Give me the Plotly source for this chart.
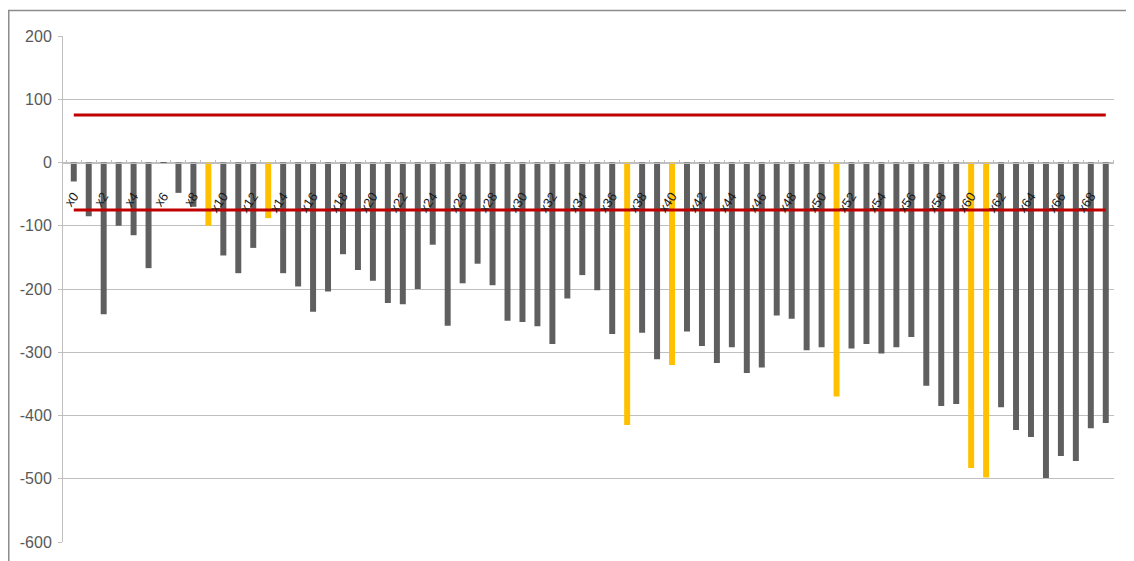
import plotly.graph_objects as go

# ---- data ----
values = [-30, -85, -240, -100, -115, -167, -2, -48, -70, -100,
          -147, -175, -135, -88, -175, -196, -236, -204, -145, -170,
          -187, -222, -224, -200, -130, -258, -191, -160, -194, -250,
          -252, -259, -287, -215, -178, -202, -271, -415, -269, -311,
          -320, -267, -290, -317, -292, -333, -324, -242, -247, -297,
          -292, -370, -294, -287, -302, -292, -276, -353, -385, -382,
          -483, -498, -387, -423, -434, -499, -464, -472, -420, -412]
categories = [f"x{i}" for i in range(len(values))]
flagged = [9, 13, 37, 40, 51, 60, 61]          # highlighted (yellow) categories
upper_limit = 75
lower_limit = -75
y_ticks = [200, 100, 0, -100, -200, -300, -400, -500, -600]
y_ticktext = [str(v) for v in y_ticks]

GREY = "#5F5F5F"
YELLOW = "#FFC000"
RED = "#C00000"
GRID = "#BFBFBF"

xs = list(range(len(values)))
colors = [YELLOW if i in flagged else GREY for i in xs]

fig = go.Figure()
fig.add_trace(go.Bar(x=xs, y=values, marker=dict(color=colors, line=dict(width=0)),
                     width=0.4, showlegend=False))
fig.add_trace(go.Scatter(x=xs, y=[upper_limit] * len(xs), mode="lines",
                         line=dict(color=RED, width=3), showlegend=False))
fig.add_trace(go.Scatter(x=xs, y=[lower_limit] * len(xs), mode="lines",
                         line=dict(color=RED, width=3), showlegend=False))

label_idx = xs[::2]
ymin, ymax = min(y_ticks), max(y_ticks)

fig.update_layout(
    width=1134, height=561,
    margin=dict(l=55, r=28, t=28, b=27),
    paper_bgcolor="white", plot_bgcolor="white",
    font=dict(family="Liberation Sans, Arial, sans-serif"),
    xaxis=dict(
        range=[-0.72, len(xs) - 0.45],
        anchor="free", position=(0 - ymin) / (ymax - ymin),
        showgrid=False, zeroline=False,
        showline=True, linecolor=GRID, linewidth=1,
        tickmode="array", tickvals=label_idx,
        ticktext=[categories[i] for i in label_idx],
        ticks="", tickangle=-55,
        tickfont=dict(size=13, color="#1A1A1A"),
        ticklabelstandoff=20,
        minor=dict(tick0=0.5, dtick=1, ticks="inside", ticklen=3,
                   tickcolor=GRID, showgrid=False),
    ),
    yaxis=dict(
        range=[ymin, ymax], tickmode="array", tickvals=y_ticks,
        ticktext=y_ticktext,
        showgrid=True, gridcolor=GRID, gridwidth=1,
        zeroline=False,
        showline=True, linecolor=GRID, linewidth=1,
        ticks="outside", ticklen=4, tickcolor=GRID,
        tickfont=dict(size=16, color="#595959"),
        ticklabelstandoff=3,
    ),
    shapes=[dict(type="rect", xref="paper", yref="paper",
                 x0=-0.0516, x1=1.05, y0=-0.1, y1=1.0504,
                 line=dict(color="#8C8C8C", width=1.5), layer="below")],
)

fig.write_html("out.html")
